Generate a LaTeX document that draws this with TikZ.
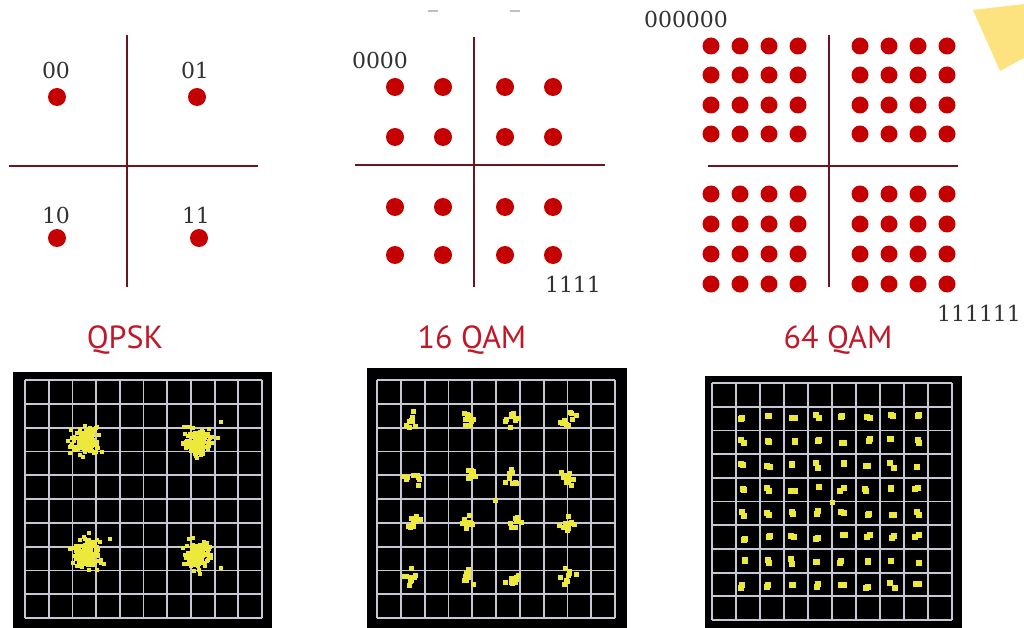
\documentclass[tikz,border=0pt]{standalone}
\usepackage{fontspec}
\newfontfamily\bitsfont{DejaVu Serif}
\newfontfamily\titlefont{PT Sans}
\usetikzlibrary{positioning}
\definecolor{dotred}{RGB}{196,0,0}
\definecolor{axisred}{RGB}{110,20,30}
\definecolor{titlered}{RGB}{192,24,40}
\definecolor{scopegrid}{RGB}{200,200,212}
\definecolor{sampleyellow}{RGB}{236,232,60}
\definecolor{noteyellow}{RGB}{253,226,128}
\definecolor{labelgray}{RGB}{50,50,50}

\begin{document}
\begin{tikzpicture}[
    x=1pt, y=-1pt,
    dot/.style={
        fill=dotred
    },
    axis/.style={
        draw=axisred,
        line width=2.6pt
    },
    bits/.style={
        font=\bitsfont\fontsize{22}{22}\selectfont,
        text=labelgray,
        inner sep=0pt
    },
    modtitle/.style={
        font=\titlefont\fontsize{32}{32}\selectfont,
        text=titlered,
        inner sep=0pt
    },
    screen/.style={
        fill=black
    },
    gridline/.style={
        draw=scopegrid,
        line width=1.8pt
    },
    sample/.style={
        fill=sampleyellow
    }
]
    \useasboundingbox (0,0) rectangle (1024,628);
    \pgfmathsetseed{11}

    % -- Sticky note and cut-off text at the top --
    \fill[noteyellow] (973,10) -- (1024,4) -- (1024,58) -- (1000,71) -- cycle;
    \draw[gray!50, line width=2pt] (428,11) -- (438,11);
    \draw[gray!50, line width=2pt] (510,11) -- (520,11);

    % -- QPSK constellation --
    \draw[axis] (127,35) -- (127,287);
    \draw[axis] (9,166) -- (258,166);
    \foreach \x/\y in {57/97, 197/97, 57/238, 199/238}
        \fill[dot] (\x,\y) circle (9pt);
    \node[bits] (q00) at (56,70) {00};
    \node[bits] (q01) at (195,70) {01};
    \node[bits] (q10) at (56,215) {10};
    \node[bits] (q11) at (196,215) {11};

    % -- 16 QAM constellation --
    \draw[axis] (474,37) -- (474,287);
    \draw[axis] (355,165) -- (605,165);
    \foreach \x in {395,443,505,553}
        \foreach \y in {87,137,207,255}
            \fill[dot] (\x,\y) circle (9pt);
    \node[bits] (m0000) at (380,60) {0000};
    \node[bits] (m1111) at (573,284) {1111};

    % -- 64 QAM constellation --
    \draw[axis] (829,35) -- (829,287);
    \draw[axis] (708,166) -- (958,166);
    \foreach \x in {711,740,769,798,860,889,918,947}
        \foreach \y in {46,75,105,134,194,224,254,284}
            \fill[dot] (\x,\y) circle (8.5pt);
    \node[bits] (s000000) at (686,19) {000000};
    \node[bits] (s111111) at (979,313) {111111};

    % Titles
    \node[modtitle] (tqpsk) at (125,340) {QPSK};
    \node[modtitle] (tqam16) at (472,340) {16 QAM};
    \node[modtitle] (tqam64) at (838,340) {64 QAM};

    % -- Scope screens --
    \fill[screen] (13,372) rectangle (272,628);
    \fill[screen] (367,368) rectangle (627,628);
    \fill[screen] (705,376) rectangle (962,628);
    \foreach \xa/\ya/\xb/\yb in {25/380/262/618, 377/380/615/618, 712/383/952/620} {
        \foreach \i in {0,...,10} {
            \pgfmathsetmacro{\gx}{\xa+\i*(\xb-\xa)/10}
            \pgfmathsetmacro{\gy}{\ya+\i*(\yb-\ya)/10}
            \draw[gridline] (\gx,\ya) -- (\gx,\yb);
            \draw[gridline] (\xa,\gy) -- (\xb,\gy);
        }
    }

    % Received samples, QPSK
    \foreach \cx/\cy in {85/442, 198/442, 87/553, 197/555} {
        \foreach \k in {1,...,120} {
            \pgfmathsetmacro{\px}{\cx+6.5*(rand+rand+rand)}
            \pgfmathsetmacro{\py}{\cy+6.5*(rand+rand+rand)}
            \fill[sample] (\px-2,\py-2) rectangle ++(4,4);
        }
        \foreach \k in {1,...,4} {
            \pgfmathsetmacro{\px}{\cx+24*rand}
            \pgfmathsetmacro{\py}{\cy+24*rand}
            \fill[sample] (\px-2,\py-2) rectangle ++(4,4);
        }
    }

    % Received samples, 16 QAM
    \foreach \cx in {413,470,513,568}
        \foreach \cy in {420,477,522,577}
            \foreach \k in {1,...,9} {
                \pgfmathsetmacro{\px}{\cx+5*(rand+rand)}
                \pgfmathsetmacro{\py}{\cy+5*(rand+rand)}
                \fill[sample] (\px-2.5,\py-2.5) rectangle ++(5,5);
            }
    \fill[sample] (492.5,497.5) rectangle ++(5,5);

    % Received samples, 64 QAM
    \foreach \i in {0,...,7}
        \foreach \j in {0,...,7}
            \foreach \k in {1,2} {
                \pgfmathsetmacro{\px}{743+\i*24.9+2.5*rand}
                \pgfmathsetmacro{\py}{417+\j*24.1+2.5*rand}
                \fill[sample] (\px-3,\py-3) rectangle ++(6,6);
            }
    \fill[sample] (829.5,499.5) rectangle ++(5,5);

\end{tikzpicture}
\end{document}
